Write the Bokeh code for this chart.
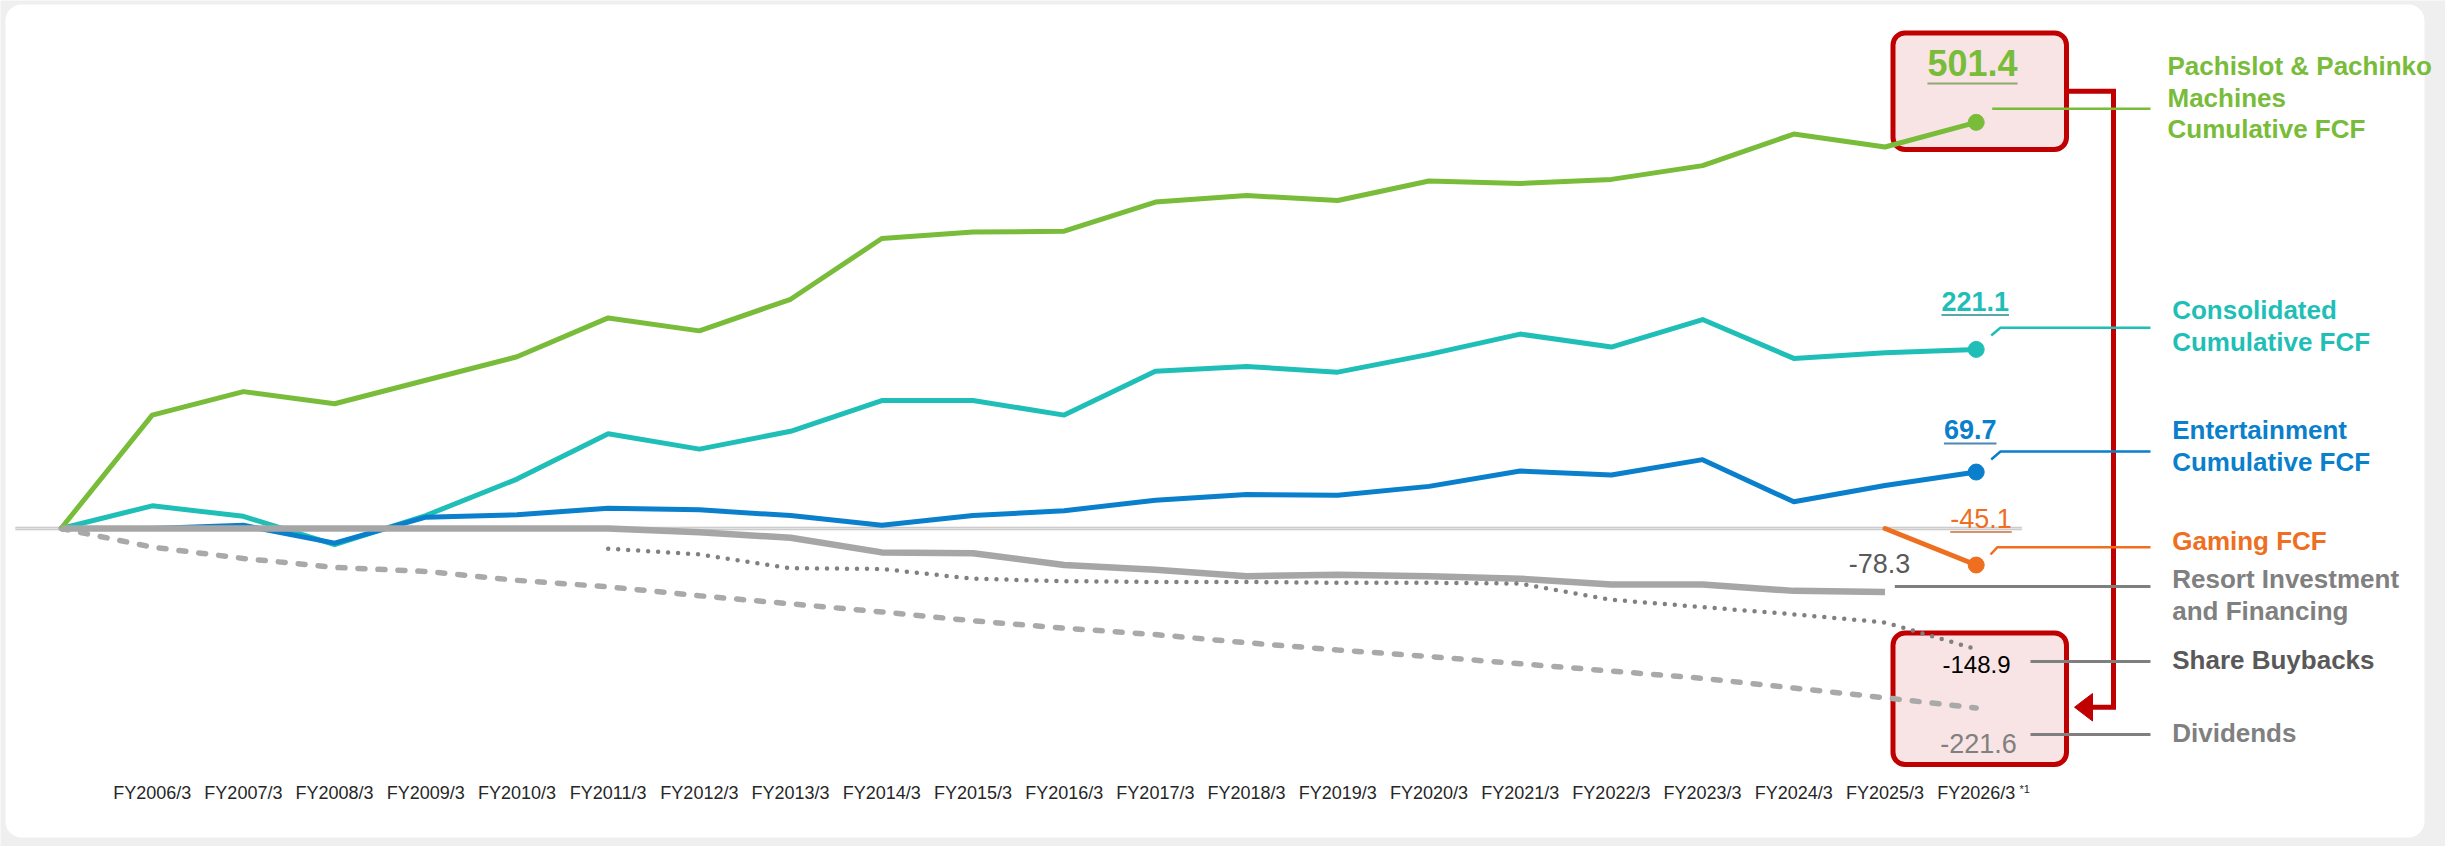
from bokeh.plotting import figure
from bokeh.models import Range1d
from bokeh.core.properties import value
from bokeh.embed import file_html
from bokeh.resources import INLINE

# ---------------- data (billion yen, cumulative from start point) ----------------
fy_labels = ["FY2006/3", "FY2007/3", "FY2008/3", "FY2009/3", "FY2010/3", "FY2011/3", "FY2012/3",
             "FY2013/3", "FY2014/3", "FY2015/3", "FY2016/3", "FY2017/3", "FY2018/3", "FY2019/3",
             "FY2020/3", "FY2021/3", "FY2022/3", "FY2023/3", "FY2024/3", "FY2025/3", "FY2026/3"]
footnote_mark = "*1"

# index 0 = start point, index k = fy_labels[k-1]
pachislot_cum_fcf = [0, 140, 169, 154, 183, 212, 260, 244, 283, 358, 366, 367, 403, 411, 405, 429,
                     426, 431, 448, 487, 471, 501.4]
consolidated_cum_fcf = [0, 28, 15, -20, 16, 61, 117, 98, 120, 158, 158, 140, 194, 200, 193, 215,
                        240, 224, 258, 210, 217, 221.1]
entertainment_cum_fcf = [0, 0, 4, -18, 14, 17, 25, 23, 16, 4, 16, 22, 35, 42, 41, 52,
                         71, 66, 85, 33, 53, 69.7]
gaming_fcf = [0, -45.1]                      # FY2025/3 - FY2026/3
gaming_start = 20
resort_inv_fin = [0, 0, 0, 0, 0, 0, 0, -4.5, -11.5, -29.5, -30.5, -45, -51, -59, -57, -59,
                  -62, -69, -69, -77, -78.3]  # start - FY2025/3
share_buybacks = [-25, -32, -49, -50, -62, -65, -66, -66, -67, -67, -68, -88, -97, -106, -116, -148.9]
buybacks_start = 6                           # FY2011/3 - FY2026/3
dividends = [0, -23, -37, -48, -53, -64, -72, -83, -93, -103, -114, -123, -131, -141, -150, -158,
             -167, -176, -185, -197, -209, -221.6]

series_names = {
    "pachislot": "Pachislot & Pachinko\nMachines\nCumulative FCF",
    "consolidated": "Consolidated\nCumulative FCF",
    "entertainment": "Entertainment\nCumulative FCF",
    "gaming": "Gaming FCF",
    "resort": "Resort Investment\nand Financing",
    "buybacks": "Share Buybacks",
    "dividends": "Dividends",
}

# ---------------- layout helpers (pixel geometry of the frame) ----------------
W, H = 2445, 846
X0_PX, DX_PX = 60.5, 91.2
Y0_PX, DY_PX = 528.0, 0.81
BASE_SHIFT = 0.40   # baseline correction (fraction of font size)


def dx(px):
    return (px - X0_PX) / DX_PX


def dy(py):
    return (Y0_PX - py) / DY_PX


def xs(vals, start=0):
    return list(range(start, start + len(vals)))


FONT = "Liberation Sans"
GREEN = "#78bc3a"
TEAL = "#1fbfb8"
BLUE = "#0a7fcc"
ORANGE = "#ee6f1f"
GREY_SOLID = "#a6a6a6"
GREY_DOT = "#808080"
GREY_DASH = "#a9a9a9"
GREY_TXT = "#808080"
DARK_TXT = "#595959"
RED = "#c00000"
PINK = "#f8e4e4"
BG = "#efefef"

p = figure(width=W, height=H,
           x_range=Range1d(dx(0), dx(W)), y_range=Range1d(dy(H), dy(0)),
           output_backend="svg", toolbar_location=None,
           x_axis_location=None, y_axis_location=None,
           min_border=0, background_fill_color=BG, border_fill_color=BG,
           outline_line_color=None)
p.xgrid.visible = False
p.ygrid.visible = False


def rbox(l, r, t, b, radius, fill, line=None, lw=0):
    p.quad(left=[dx(l)], right=[dx(r)], top=[dy(t)], bottom=[dy(b)], fill_color=fill,
           line_color=line, line_width=lw, border_radius=radius)


# card and highlight boxes
rbox(5, 2424, 4, 837, 16, "white")
rbox(1892.5, 2066, 32.5, 149, 12, PINK, RED, 5)
rbox(1892.5, 2066, 632.5, 764, 12, PINK, RED, 5)


def txt(px, py, s, size, color, bold=False, align="left"):
    p.text(x=[dx(px)], y=[dy(py - BASE_SHIFT * size)], text=[s], text_font=value(FONT),
           text_font_size=f"{size}px", text_font_style="bold" if bold else "normal",
           text_color=color, text_align=align, text_baseline="alphabetic")


# category (x) labels
tick_x = list(range(1, len(fy_labels) + 1))
p.text(x=tick_x, y=[dy(799.3 - BASE_SHIFT * 18)] * len(tick_x), text=fy_labels,
       text_font=value(FONT), text_font_size="18px", text_color="#262626",
       text_align="center", text_baseline="alphabetic")
txt(2019, 793, footnote_mark, 11, "#262626")

# zero baseline
base_x = [-0.5, len(fy_labels) + 0.5]
p.line(base_x, [0, 0], line_width=3.5, color="#c4c4c4")
p.line(base_x, [0, 0], line_width=1.5, color="#e2e2e2")

# series lines
p.line(xs(dividends), dividends, line_width=5.5, color=GREY_DASH, line_dash="7 13", line_cap="round")
p.line(xs(consolidated_cum_fcf), consolidated_cum_fcf, line_width=5, color=TEAL, line_join="round")
p.line(xs(entertainment_cum_fcf), entertainment_cum_fcf, line_width=5, color=BLUE, line_join="round")
p.line(xs(pachislot_cum_fcf), pachislot_cum_fcf, line_width=5, color=GREEN, line_join="round")
p.line(xs(resort_inv_fin), resort_inv_fin, line_width=6.5, color=GREY_SOLID, line_join="round")
p.line(xs(share_buybacks, buybacks_start), share_buybacks, line_width=4.5, color=GREY_DOT,
       line_dash="0 10", line_cap="round")
p.line(xs(gaming_fcf, gaming_start), gaming_fcf, line_width=5, color=ORANGE, line_cap="round")

for vals, start, col in [(pachislot_cum_fcf, 0, GREEN), (consolidated_cum_fcf, 0, TEAL),
                         (entertainment_cum_fcf, 0, BLUE), (gaming_fcf, gaming_start, ORANGE)]:
    p.scatter([xs(vals, start)[-1]], [vals[-1]], size=16, color=col)

# red connector + arrow
p.line([dx(2066), dx(2113), dx(2113), dx(2090)], [dy(90.7), dy(90.7), dy(706.7), dy(706.7)],
       line_width=5, color=RED, line_join="miter")
p.patch([dx(2074), dx(2092), dx(2092)], [dy(706.7), dy(693), dy(720.5)], color=RED)


def text_w(s, size):
    w = {".": 0.278, "-": 0.333}
    return sum(w.get(c, 0.556) for c in s) * size


labels = [
    # key, value, value style (cx, baseline, size, bold, color), underline (y, color) or None,
    # leader points, leader colour, name pos, name colour
    ("pachislot", pachislot_cum_fcf[-1], (1972, 77.3, 36, True, GREEN), (83, "#8ea872"),
     [(1991.7, 108.3), (2150, 108.3)], GREEN, (2167, 76), GREEN),
    ("consolidated", consolidated_cum_fcf[-1], (1974.7, 311.7, 27, True, TEAL), (314.5, "#5aa9a6"),
     [(1990.7, 335), (2000, 327.3), (2150, 327.3)], TEAL, (2171.7, 320), TEAL),
    ("entertainment", entertainment_cum_fcf[-1], (1969.7, 439.3, 27, True, BLUE), (443, "#4f86b3"),
     [(1990.7, 459), (2000, 451), (2150, 451)], BLUE, (2171.7, 440), BLUE),
    ("gaming", gaming_fcf[-1], (1980.5, 528.3, 27, False, ORANGE), (531.5, "#d9926a"),
     [(1990, 554), (1997, 546.7), (2150, 546.7)], ORANGE, (2171.7, 551), ORANGE),
    ("resort", resort_inv_fin[-1], (1879, 573.3, 27, False, DARK_TXT), None,
     [(1894.3, 586), (2150, 586)], "#7f7f7f", (2171.7, 589.3), GREY_TXT),
    ("buybacks", share_buybacks[-1], (1976, 674, 24, False, "#000000"), None,
     [(2030, 661), (2150, 661)], "#7f7f7f", (2171.7, 670), DARK_TXT),
    ("dividends", dividends[-1], (1978, 754, 27, False, GREY_TXT), None,
     [(2030, 734), (2150, 734)], "#7f7f7f", (2171.7, 743.3), GREY_TXT),
]

for key, v, (cx, by, fs, bold, vcol), ul, leader, lcol, (nx, ny), ncol in labels:
    s = f"{v:.1f}"
    txt(cx, by, s, fs, vcol, bold=bold, align="center")
    if ul is not None:
        w = text_w(s, fs)
        p.segment(x0=[dx(cx - w / 2)], x1=[dx(cx + w / 2)], y0=[dy(ul[0])], y1=[dy(ul[0])],
                  line_width=2, color=ul[1])
    p.line([dx(a) for a, _ in leader], [dy(b) for _, b in leader],
           line_width=3 if lcol == "#7f7f7f" else 2.5, color=lcol)
    for k, line in enumerate(series_names[key].split("\n")):
        txt(nx, ny + k * 31.5, line, 26, ncol, bold=True)

open("out.html", "w").write(file_html(p, INLINE))
